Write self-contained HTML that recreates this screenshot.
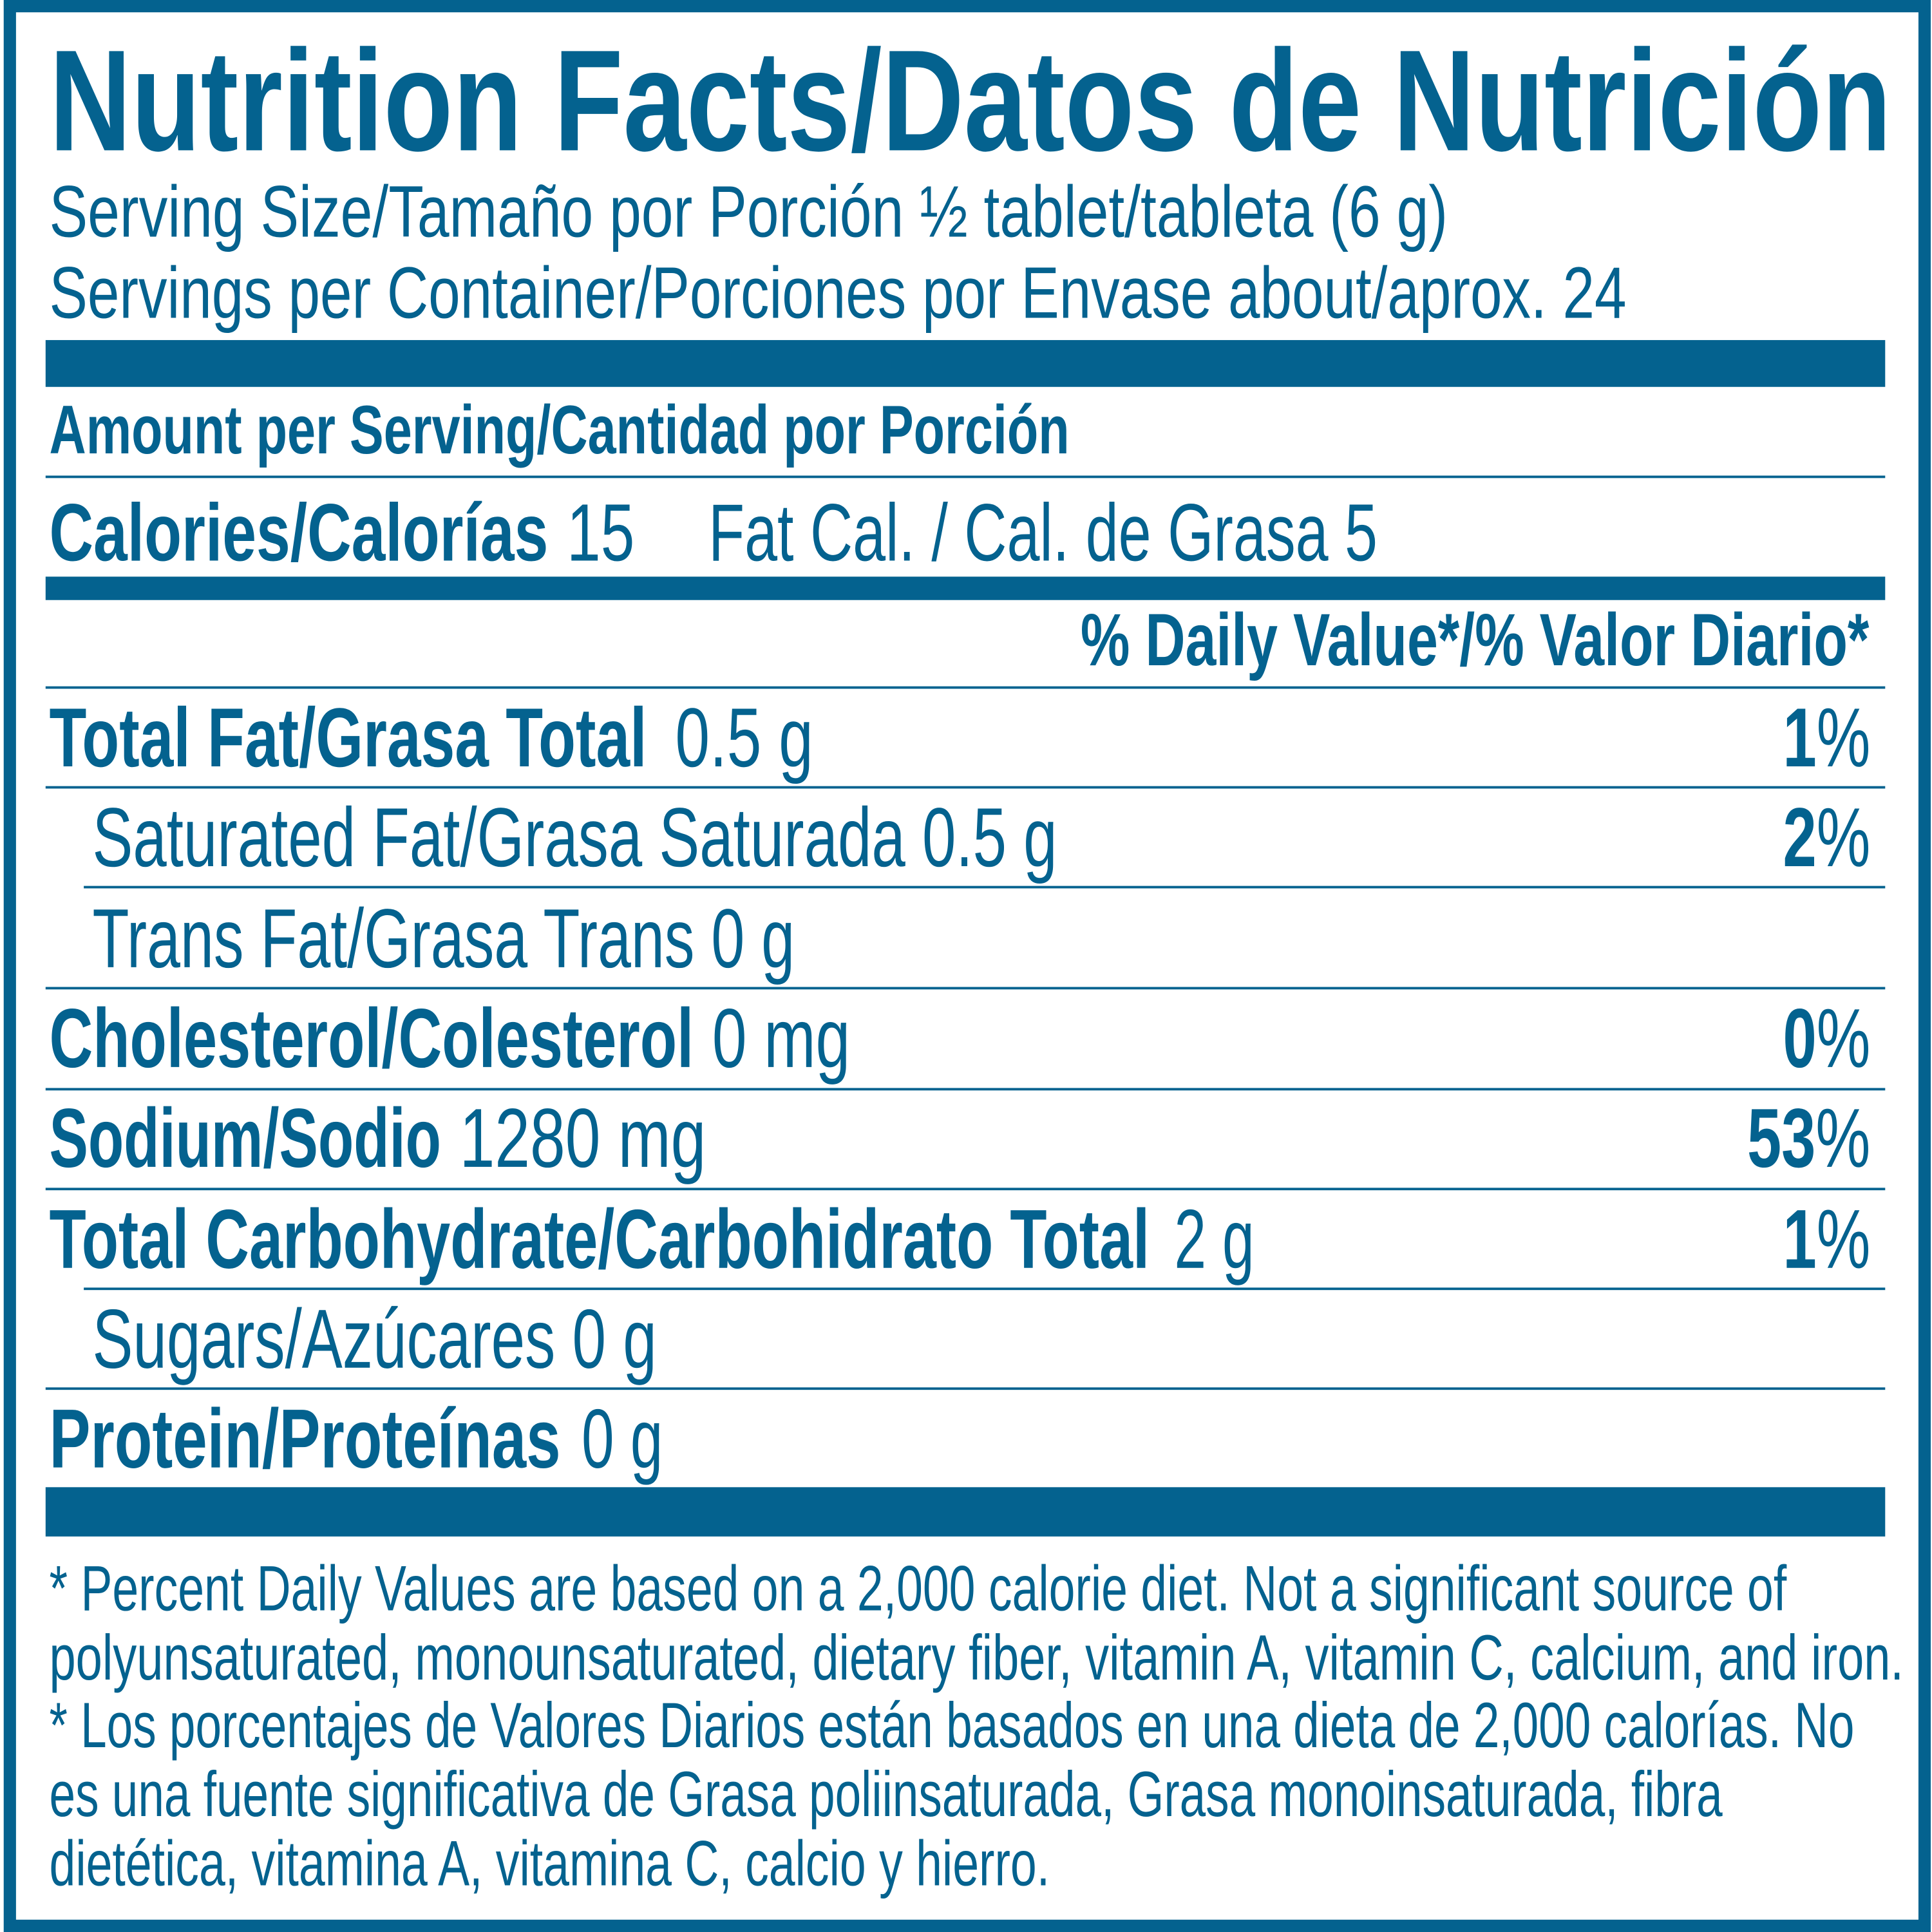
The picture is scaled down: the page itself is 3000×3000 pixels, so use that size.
<!DOCTYPE html>
<html><head><meta charset="utf-8"><style>html,body{margin:0;padding:0;background:#fff}svg{display:block}</style></head>
<body>
<svg width="3000" height="3000" viewBox="0 0 1568 1568" xmlns="http://www.w3.org/2000/svg" font-family="Liberation Sans, Arial, sans-serif" fill="#04628f">
<rect x="0" y="0" width="1568" height="1568" fill="#fff"/>
<rect x="8" y="5" width="1554" height="1558" fill="none" stroke="#04628f" stroke-width="10"/>
<text x="40" y="122" font-size="117" font-weight="bold" textLength="1495" lengthAdjust="spacingAndGlyphs">Nutrition Facts/Datos de Nutrición</text>
<text x="40" y="192" font-size="59" textLength="1135" lengthAdjust="spacingAndGlyphs">Serving Size/Tamaño por Porción ½ tablet/tableta (6 g)</text>
<text x="40" y="258" font-size="59" textLength="1280" lengthAdjust="spacingAndGlyphs">Servings per Container/Porciones por Envase about/aprox. 24</text>
<rect x="37" y="276" width="1493" height="38"/>
<text x="40" y="368" font-size="56" font-weight="bold" textLength="828" lengthAdjust="spacingAndGlyphs">Amount per Serving/Cantidad por Porción</text>
<rect x="37" y="386" width="1493" height="2"/>
<text x="40" y="455" font-size="66" font-weight="bold" textLength="405" lengthAdjust="spacingAndGlyphs">Calories/Calorías</text>
<text x="460" y="455" font-size="66" textLength="55" lengthAdjust="spacingAndGlyphs">15</text>
<text x="575" y="455" font-size="66" textLength="543" lengthAdjust="spacingAndGlyphs">Fat Cal. / Cal. de Grasa 5</text>
<rect x="37" y="468" width="1493" height="19"/>
<text x="877" y="540" font-size="60" font-weight="bold" textLength="640" lengthAdjust="spacingAndGlyphs">% Daily Value*/% Valor Diario*</text>
<rect x="37" y="557" width="1493" height="2"/>
<text x="40" y="622" font-size="68" font-weight="bold" textLength="485" lengthAdjust="spacingAndGlyphs">Total Fat/Grasa Total</text>
<text x="548" y="622" font-size="68" textLength="112" lengthAdjust="spacingAndGlyphs">0.5 g</text>
<text x="1447" y="622" font-size="68" font-weight="bold" textLength="71" lengthAdjust="spacingAndGlyphs">1<tspan font-weight="normal">%</tspan></text>
<rect x="37" y="638" width="1493" height="2"/>
<text x="75" y="703" font-size="68" textLength="783" lengthAdjust="spacingAndGlyphs">Saturated Fat/Grasa Saturada 0.5 g</text>
<text x="1447" y="703" font-size="68" font-weight="bold" textLength="71" lengthAdjust="spacingAndGlyphs">2<tspan font-weight="normal">%</tspan></text>
<rect x="68" y="719" width="1462" height="2"/>
<text x="75" y="785" font-size="68" textLength="570" lengthAdjust="spacingAndGlyphs">Trans Fat/Grasa Trans 0 g</text>
<rect x="37" y="801" width="1493" height="2"/>
<text x="40" y="866" font-size="68" font-weight="bold" textLength="523" lengthAdjust="spacingAndGlyphs">Cholesterol/Colesterol</text>
<text x="578" y="866" font-size="68" textLength="112" lengthAdjust="spacingAndGlyphs">0 mg</text>
<text x="1447" y="866" font-size="68" font-weight="bold" textLength="71" lengthAdjust="spacingAndGlyphs">0<tspan font-weight="normal">%</tspan></text>
<rect x="37" y="883" width="1493" height="2"/>
<text x="40" y="947" font-size="68" font-weight="bold" textLength="318" lengthAdjust="spacingAndGlyphs">Sodium/Sodio</text>
<text x="373" y="947" font-size="68" textLength="200" lengthAdjust="spacingAndGlyphs">1280 mg</text>
<text x="1418" y="947" font-size="68" font-weight="bold" textLength="100" lengthAdjust="spacingAndGlyphs">53<tspan font-weight="normal">%</tspan></text>
<rect x="37" y="964" width="1493" height="2"/>
<text x="40" y="1029" font-size="68" font-weight="bold" textLength="893" lengthAdjust="spacingAndGlyphs">Total Carbohydrate/Carbohidrato Total</text>
<text x="953" y="1029" font-size="68" textLength="65" lengthAdjust="spacingAndGlyphs">2 g</text>
<text x="1447" y="1029" font-size="68" font-weight="bold" textLength="71" lengthAdjust="spacingAndGlyphs">1<tspan font-weight="normal">%</tspan></text>
<rect x="68" y="1045" width="1462" height="2"/>
<text x="75" y="1110" font-size="68" textLength="458" lengthAdjust="spacingAndGlyphs">Sugars/Azúcares 0 g</text>
<rect x="37" y="1126" width="1493" height="2"/>
<text x="40" y="1191" font-size="68" font-weight="bold" textLength="415" lengthAdjust="spacingAndGlyphs">Protein/Proteínas</text>
<text x="472" y="1191" font-size="68" textLength="66" lengthAdjust="spacingAndGlyphs">0 g</text>
<rect x="37" y="1207" width="1493" height="40"/>
<g font-size="52">
<text x="40" y="1307" textLength="1410" lengthAdjust="spacingAndGlyphs">* Percent Daily Values are based on a 2,000 calorie diet. Not a significant source of</text>
<text x="40" y="1363" textLength="1505" lengthAdjust="spacingAndGlyphs">polyunsaturated, monounsaturated, dietary fiber, vitamin A, vitamin C, calcium, and iron.</text>
<text x="40" y="1418" textLength="1465" lengthAdjust="spacingAndGlyphs">* Los porcentajes de Valores Diarios están basados en una dieta de 2,000 calorías. No</text>
<text x="40" y="1474" textLength="1358" lengthAdjust="spacingAndGlyphs">es una fuente significativa de Grasa poliinsaturada, Grasa monoinsaturada, fibra</text>
<text x="40" y="1530" textLength="812" lengthAdjust="spacingAndGlyphs">dietética, vitamina A, vitamina C, calcio y hierro.</text>
</g>
</svg>
</body></html>
